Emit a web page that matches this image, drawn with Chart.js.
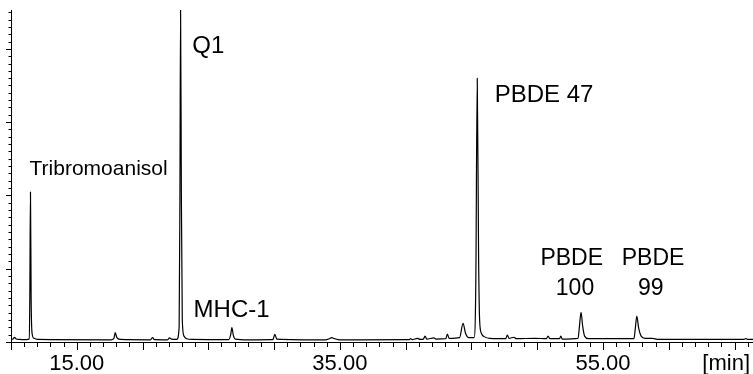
<!DOCTYPE html>
<html>
<head>
<meta charset="utf-8">
<script src="https://cdn.jsdelivr.net/npm/chart.js@4.4.1/dist/chart.umd.min.js"></script>
<style>
  html, body { margin: 0; padding: 0; background: #fff; }
  #wrap { width: 753px; height: 374px; position: relative; }
</style>
</head>
<body>
<div id="wrap"><canvas id="grafico"></canvas></div>
<script>
const tempos = [
  10.0, 10.15, 10.27, 10.4, 10.6, 11.2, 11.38, 11.43, 11.48, 11.53, 11.6, 11.75, 12.0,
  17.6, 17.82, 17.92, 18.05, 18.3, 20.6, 20.76, 20.9, 21.9, 22.05, 22.2, 22.6,
  22.78, 22.84, 22.89, 22.95, 23.02, 23.15, 23.35, 23.8,
  26.55, 26.7, 26.79, 26.9, 27.05, 28.0, 29.9, 30.06, 30.2,
  33.9, 34.2, 34.37, 34.6, 35.0,
  40.25, 40.38, 40.5, 40.89, 41.1, 41.35, 41.47, 41.6, 42.15, 42.3, 43.05, 43.17, 43.3,
  44.1, 44.36, 44.55, 44.8, 45.2, 45.33, 45.44, 45.54, 45.62, 45.75, 46.0, 46.4,
  47.6, 47.73, 47.85, 48.24, 48.4, 49.83, 50.7, 50.82, 50.95, 51.7, 51.79, 51.9,
  53.1, 53.2, 53.33, 53.45, 53.6, 53.9,
  57.35, 57.45, 57.57, 57.7, 57.9, 58.2, 58.76, 59.2, 65.7, 65.86, 66.0, 66.4
];
const sinal = [
  3.5, 4, 6.5, 4, 3.5, 3.2, 4, 60, 204.7, 60, 12, 5, 3.5,
  3, 5, 12.7, 6, 3.5, 3, 5.9, 3.2, 3, 5.5, 4, 3.5,
  20, 200, 453, 200, 30, 8, 4.5, 3.5,
  3.2, 10, 19.5, 9, 4, 3, 3.2, 10.5, 4,
  3, 4.5, 5.9, 4.5, 3,
  3.2, 4.5, 3.3, 5, 3.5, 4, 8.2, 4, 5.5, 4, 4.5, 10.9, 5,
  6, 25.5, 12, 6, 6, 80, 359.8, 120, 30, 12, 7, 5,
  4.5, 9.5, 5, 6.5, 4.5, 5, 4.5, 8.2, 4.5, 4.5, 8.2, 4,
  5, 20, 40.5, 22, 8, 4.5,
  4.5, 18, 35.5, 20, 8, 5, 5, 3.5, 3.5, 4.5, 3.5, 3.5
];

// Rótulos dos eixos
const ticksX = [15, 35, 55];
const unidadeX = '[min]';

// Nomes dos picos (tempo e sinal onde o texto começa)
const picos = [
  { texto: 'Tribromoanisol', t: 11.41, v: 228, tam: 21, alinha: 'left' },
  { texto: 'Q1', t: 23.78, v: 395, tam: 24, alinha: 'left' },
  { texto: 'MHC-1', t: 23.88, v: 34.5, tam: 24, alinha: 'left' },
  { texto: 'PBDE 47', t: 46.77, v: 328, tam: 24, alinha: 'left' },
  { texto: 'PBDE', t: 52.62, v: 105, tam: 23, alinha: 'center' },
  { texto: '100', t: 52.87, v: 64, tam: 23, alinha: 'center' },
  { texto: 'PBDE', t: 58.8, v: 105, tam: 23, alinha: 'center' },
  { texto: '99', t: 58.63, v: 64, tam: 23, alinha: 'center' }
];

const fonte = "'Liberation Sans', Arial, sans-serif";

// Desenha traços menores/maiores dos eixos e os nomes dos picos
const extras = {
  id: 'extras',
  afterDraw(chart) {
    const { ctx, chartArea: ca, scales: { x, y } } = chart;
    ctx.save();
    ctx.strokeStyle = '#000';
    ctx.lineWidth = 1;
    ctx.beginPath();
    for (let v = 0; v <= 450; v += 10) {
      const py = Math.round(y.getPixelForValue(v)) + 0.5;
      const len = v % 100 === 0 ? 5 : 2.5;
      ctx.moveTo(ca.left, py);
      ctx.lineTo(ca.left - len, py);
    }
    for (let t = 10; t <= 66; t++) {
      const px = Math.round(x.getPixelForValue(t)) + 0.5;
      const len = t % 5 === 0 ? 8 : 5;
      ctx.moveTo(px, ca.bottom);
      ctx.lineTo(px, ca.bottom + len);
    }
    ctx.stroke();

    ctx.fillStyle = '#000';
    ctx.textBaseline = 'alphabetic';
    picos.forEach(p => {
      ctx.font = p.tam + 'px ' + fonte;
      ctx.textAlign = p.alinha;
      ctx.fillText(p.texto, x.getPixelForValue(p.t), y.getPixelForValue(p.v));
    });

    ctx.font = '22px ' + fonte;
    ctx.textAlign = 'right';
    ctx.fillText(unidadeX, 750, 370);
    ctx.restore();
  }
};

const dados = tempos.map((t, i) => ({ x: t, y: sinal[i] }));

new Chart(document.getElementById('grafico'), {
  type: 'line',
  data: {
    datasets: [{
      data: dados,
      borderColor: '#000',
      borderWidth: 1.2,
      pointRadius: 0,
      cubicInterpolationMode: 'monotone',
      fill: false
    }]
  },
  options: {
    responsive: true,
    maintainAspectRatio: false,
    animation: false,
    layout: { padding: { top: 10, right: 0, left: 0, bottom: 0 } },
    plugins: { legend: { display: false }, tooltip: { enabled: false } },
    scales: {
      x: {
        type: 'linear',
        min: 10,
        max: 66.4,
        afterFit: s => { s.height = 32; s.paddingLeft = 0; s.paddingRight = 0; },
        border: { display: true, color: '#000', width: 1 },
        grid: { display: false, drawTicks: false },
        ticks: {
          stepSize: 1,
          autoSkip: false,
          maxRotation: 0,
          padding: 9,
          color: '#000',
          font: { family: fonte, size: 22 },
          callback: v => ticksX.includes(v) ? v.toFixed(2) : ''
        }
      },
      y: {
        min: 0,
        max: 453,
        afterFit: s => { s.width = 11; },
        border: { display: true, color: '#000', width: 1 },
        grid: { display: false, drawTicks: false },
        ticks: { display: false }
      }
    }
  },
  plugins: [extras]
});
</script>
</body>
</html>
